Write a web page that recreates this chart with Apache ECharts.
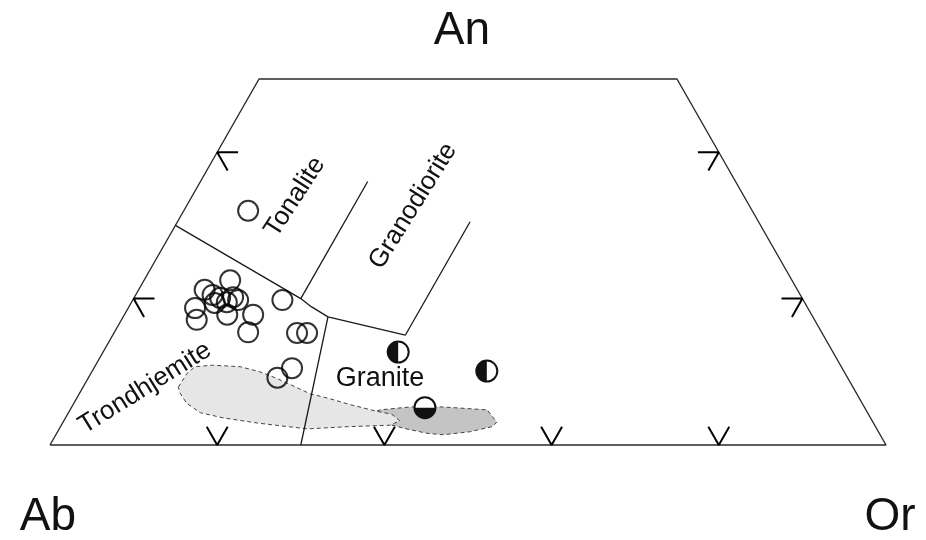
<!DOCTYPE html>
<html>
<head>
<meta charset="utf-8">
<script src="https://cdn.jsdelivr.net/npm/echarts@6/dist/echarts.min.js"></script>
<style>
html,body{margin:0;padding:0;background:#fff;}
#chart{width:926px;height:540px;}
</style>
</head>
<body>
<div id="chart"></div>
<script>
// Ternary data: [An, Ab, Or] (percent)
const openCircles = [
  [32.0,60.3,7.7],[22.5,67.2,10.3],[21.2,70.9,7.9],[20.5,70.3,9.2],[20.1,69.6,10.3],
  [19.5,69.1,11.4],[19.8,67.6,12.6],[18.7,73.3,8.0],[17.1,73.9,9.0],[17.8,69.9,12.3],
  [17.8,66.8,15.4],[19.8,62.3,17.9],[15.4,68.6,16.0],[15.3,62.8,21.9],[15.3,61.6,23.1],
  [10.5,65.8,23.7],[9.2,68.2,22.6],[19.4,70.6,10.0],[20.2,68.0,11.8]
];
const halfCircles = [[12.7,52.0,35.3],[10.1,42.7,47.2],[5.1,52.6,42.3]];
const halfFillSide = ['left','left','bottom'];

const frameOutline = [[0,100,0],[0,0,100],[50,0,50],[50,50,0],[0,100,0]];
const lineTonTro = [[30,70,0],[20,60,20],[18.9,59.3,21.8],[17.5,58,24.5],[15,50,35]];
const lineTonGrd = [[20,60,20],[36,44,20]];
const lineGrdGra = [[15,50,35],[30.5,34.5,35]];
const lineTroGra = [[17.5,58,24.5],[0,70,30]];

const lightField = [
  [7.9,80.7,11.4],[9.8,78.7,11.5],[10.7,77.3,12.0],[10.9,75.1,14.0],[10.7,71.9,17.4],
  [10.0,69.9,20.1],[9.2,68.5,22.3],[8.1,66.9,25.0],[7.0,65.4,27.6],[6.3,63.3,30.4],
  [5.5,61.3,33.2],[4.6,58.6,36.8],[4.2,57.0,38.8],[3.3,56.5,40.2],[2.7,58.0,39.3],
  [2.5,63.2,34.3],[2.2,68.1,29.7],[3.0,73.7,23.3],[3.7,77.4,18.9],[4.4,79.8,15.8],
  [5.7,80.8,13.5],[7.1,80.9,12.0]
];
const darkField = [
  [4.4,59.5,36.1],[4.8,58.1,37.1],[5.2,54.3,40.5],[5.2,50.4,44.4],[4.8,45.3,49.9],
  [3.1,45.0,51.9],[2.5,45.9,51.6],[1.8,48.9,49.3],[1.4,52.3,46.3],[1.6,54.1,44.3],
  [2.3,56.6,41.1],[2.9,58.2,38.9],[3.4,60.0,36.6]
];

const tickAnValues = [20,40];
const tickOrValues = [20,40,60,80];
const tickLen = 2.5;

const SQ = Math.sqrt(3)/2;
function tern(p){
  const s = p[0]+p[1]+p[2];
  const an = p[0]/s*100, or = p[2]/s*100;
  return [or + an/2, an*SQ];
}

const FONT = "'Liberation Sans', Arial, Helvetica, sans-serif";

function lineSeries(pts, color, width, z){
  return {type:'line', data: pts.map(tern), symbol:'none', showSymbol:false, silent:true,
    lineStyle:{color:color, width:width}, z:z||3, animation:false, clip:false};
}

const series = [];

function fieldSeries(pts, fill, z){
  const xy = pts.map(tern);
  return {type:'custom', data: xy, encode:{x:0,y:1}, z:z, silent:true, animation:false, clip:false,
    renderItem:function(params, api){
      if(params.dataIndex !== 0) return null;
      const P = xy.map(function(p){return api.coord(p);});
      return {type:'polygon', shape:{points:P},
        style:{fill:fill, stroke:'#444', lineWidth:1, lineDash:[4,3]}};
    }};
}
series.push(fieldSeries(darkField, '#c4c4c4', 1));
series.push(fieldSeries(lightField, '#e6e6e6', 2));

series.push(lineSeries(frameOutline, '#2a2a2a', 1.4, 3));
series.push(lineSeries(lineTonTro, '#1a1a1a', 1.3, 3));
series.push(lineSeries(lineTonGrd, '#1a1a1a', 1.3, 3));
series.push(lineSeries(lineGrdGra, '#1a1a1a', 1.3, 3));
series.push(lineSeries(lineTroGra, '#1a1a1a', 1.3, 3));

// ticks
const L = tickLen;
tickAnValues.forEach(function(a){
  series.push(lineSeries([[a,100-a-L,L],[a,100-a,0],[a-L,100-a,L]], '#000', 2, 4));
  series.push(lineSeries([[a,L,100-a-L],[a,0,100-a],[a-L,L,100-a]], '#000', 2, 4));
});
tickOrValues.forEach(function(o){
  series.push(lineSeries([[L,100-o,o-L],[0,100-o,o],[L,100-o-L,o]], '#000', 2, 4));
});

series.push({type:'scatter', data: openCircles.map(tern), symbol:'circle', symbolSize:20, z:5,
  silent:true, animation:false,
  itemStyle:{color:'rgba(0,0,0,0)', borderColor:'#000', borderWidth:2}});

series.push({type:'custom', data: halfCircles.map(tern), encode:{x:0,y:1}, z:6, silent:true, animation:false,
  renderItem:function(params, api){
    const c = api.coord([api.value(0), api.value(1)]);
    const side = halfFillSide[params.dataIndex];
    const r = 10.5;
    let sa, ea;
    if(side==='left'){ sa = Math.PI/2; ea = Math.PI*3/2; }
    else { sa = 0; ea = Math.PI; }
    return {type:'group', children:[
      {type:'circle', shape:{cx:c[0], cy:c[1], r:r}, style:{fill:'#fff'}},
      {type:'sector', shape:{cx:c[0], cy:c[1], r0:0, r:r, startAngle:sa, endAngle:ea, clockwise:true}, style:{fill:'#111'}},
      {type:'circle', shape:{cx:c[0], cy:c[1], r:r}, style:{fill:'none', stroke:'#111', lineWidth:2}}
    ]};
  }});

function txt(t, x, y, size, rot){
  return {type:'text', x:x, y:y, rotation:rot||0, z:10, silent:true,
    style:{text:t, font: size+'px '+FONT, fill:'#111', align:'center', verticalAlign:'middle'}};
}

const chart = echarts.init(document.getElementById('chart'), null, {renderer:'canvas'});
chart.setOption({
  animation:false,
  backgroundColor:'#fff',
  grid:{left:50, right:40, top:79, bottom:95},
  xAxis:{type:'value', min:0, max:100, show:false},
  yAxis:{type:'value', min:0, max:50*SQ, show:false},
  series: series,
  graphic: [
    txt('An', 462, 31, 46),
    txt('Ab', 48, 517, 46),
    txt('Or', 890, 517, 46),
    txt('Tonalite', 295, 197, 26, 57*Math.PI/180),
    txt('Granodiorite', 413, 206, 26, 58*Math.PI/180),
    txt('Trondhjemite', 145, 388, 26, 32*Math.PI/180),
    txt('Granite', 380, 379, 27, 0)
  ]
});
</script>
</body>
</html>
